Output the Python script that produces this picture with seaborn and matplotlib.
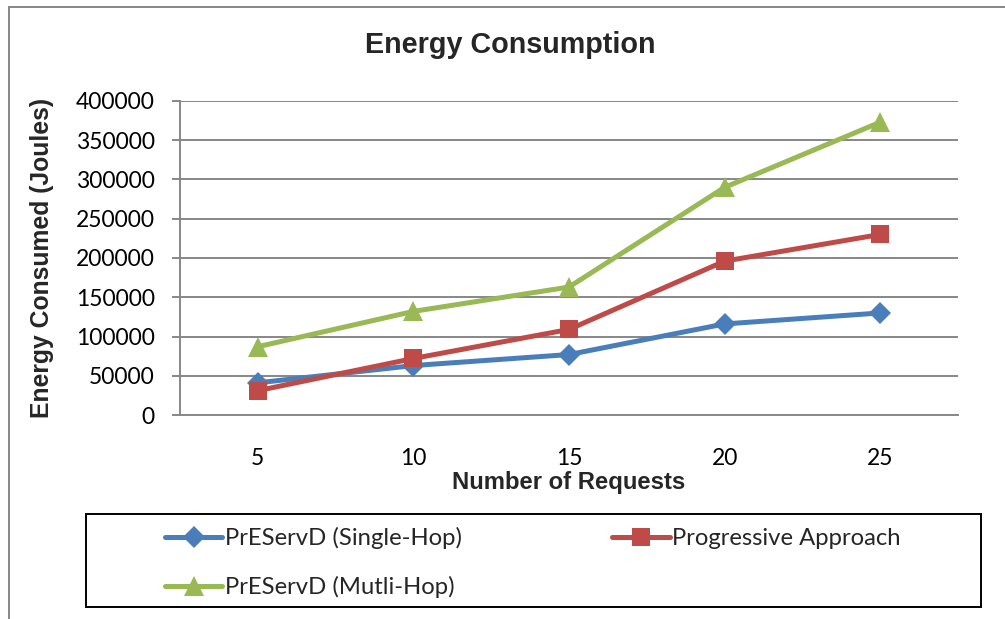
import matplotlib
matplotlib.use("Agg")
import matplotlib.pyplot as plt
from matplotlib.lines import Line2D
from matplotlib.patches import Rectangle
import seaborn as sns
import pandas as pd

categories = ["5", "10", "15", "20", "25"]
single_hop = [41000, 63000, 77000, 116000, 130000]
progressive = [31000, 72000, 109000, 196000, 230000]
multi_hop = [87000, 132000, 163000, 290000, 373000]
series_names = ["PrEServD (Single-Hop)", "Progressive Approach", "PrEServD (Mutli-Hop)"]
y_ticks = [0, 50000, 100000, 150000, 200000, 250000, 300000, 350000, 400000]

colors = {series_names[0]: "#4A7EBB", series_names[1]: "#BE4B48", series_names[2]: "#98B954"}
markers = {series_names[0]: "D", series_names[1]: "s", series_names[2]: "^"}
msizes = {series_names[0]: 11, series_names[1]: 13, series_names[2]: 14}

rows = []
for name, vals in zip(series_names, [single_hop, progressive, multi_hop]):
    for i, v in enumerate(vals):
        rows.append({"pos": i, "cat": categories[i], "value": v, "series": name})
df = pd.DataFrame(rows)

sns.set_theme(style="white")
plt.rcParams["font.family"] = ["Lato", "DejaVu Sans"]

fig = plt.figure(figsize=(10.05, 6.19), dpi=100)
W, H = 1005, 619
ax = fig.add_axes([180 / W, 1 - 415 / H, 778 / W, 314 / H])

grid_c = "#878787"
for name in series_names:
    sub = df[df["series"] == name]
    sns.lineplot(data=sub, x="pos", y="value", ax=ax, color=colors[name],
                 marker=markers[name], markersize=msizes[name], linewidth=3.6,
                 markeredgewidth=0, legend=False)

ax.set_xlim(-0.5, len(categories) - 0.5)
ax.set_ylim(0, 400000)
ax.set_xticks(range(len(categories)))
ax.set_xticklabels(categories)
ax.set_yticks(y_ticks)
ax.set_yticklabels([str(t) for t in y_ticks])
ax.yaxis.grid(True, color=grid_c, linewidth=1.4)
ax.set_axisbelow(True)
for s in ["top", "right"]:
    ax.spines[s].set_visible(False)
for s in ["left", "bottom"]:
    ax.spines[s].set_color(grid_c)
    ax.spines[s].set_linewidth(1.4)
ax.tick_params(axis="y", length=6, width=1.4, color=grid_c, pad=12, labelsize=16.5, labelcolor="black", left=True)
ax.tick_params(axis="x", length=0, pad=24, labelsize=16.5, labelcolor="black")

ax.set_xlabel("Number of Requests", family=["Liberation Sans"], fontweight="bold", fontsize=17.2)
ax.set_ylabel("Energy Consumed (Joules)", family=["Liberation Sans"], fontweight="bold", fontsize=17.8)
ax.xaxis.set_label_coords(0.5, (415 - 471) / 314)
ax.yaxis.set_label_coords((42 - 180) / 778, 0.5)
ax.yaxis.label.set_va("center")

fig.text(510 / W, 1 - 45 / H, "Energy Consumption", ha="center", va="center",
         family=["Liberation Sans"], fontweight="bold", fontsize=20.7)

# outer chart frame
fig.patches.append(Rectangle((9 / W, -0.05), 1.1, 1 - 7 / H + 0.05, transform=fig.transFigure,
                             fill=False, edgecolor=grid_c, linewidth=1.4))
# legend frame
fig.patches.append(Rectangle((86 / W, 1 - 607 / H), (981 - 86) / W, (607 - 514) / H,
                             transform=fig.transFigure, fill=False, edgecolor="black", linewidth=1.4))

order = [series_names[0], series_names[2], series_names[1]]
handles = [Line2D([], [], color=colors[n], marker=markers[n], markersize=msizes[n],
                  linewidth=3.6, markeredgewidth=0) for n in order]
fig.legend(handles, order, loc="upper left", bbox_to_anchor=(165 / W, 1 - 527 / H),
           ncol=2, frameon=False, fontsize=17.2, handlelength=2.39, handletextpad=0.12,
           columnspacing=6.3, labelspacing=1.12, borderpad=0, borderaxespad=0)

fig.savefig("out.png", dpi=100)
